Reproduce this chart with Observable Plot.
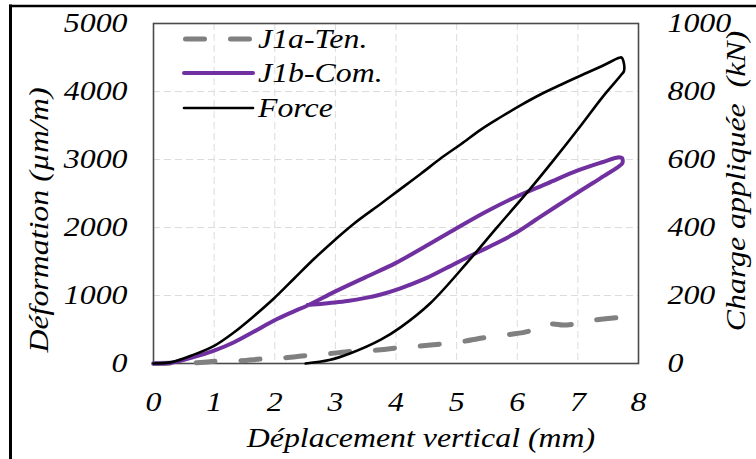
<!DOCTYPE html>
<html><head><meta charset="utf-8">
<script src="https://cdn.jsdelivr.net/npm/d3@7"></script>
<script src="https://cdn.jsdelivr.net/npm/@observablehq/plot@0.6"></script>
<style>
body{margin:0;background:#fff}
#chart{position:relative;width:756px;height:459px;overflow:hidden}
</style>
</head><body><div id="chart"></div>
<script>
// ---- data ----
const xTicks = [0, 1, 2, 3, 4, 5, 6, 7, 8];
const yLeftTicks = [0, 1000, 2000, 3000, 4000, 5000];
const yRightTicks = [0, 200, 400, 600, 800, 1000];
const gridXTicks = [1, 2, 3, 4, 5, 6, 7];
const gridYTicks = [1000, 2000, 3000, 4000];

const seriesNames = ["J1a-Ten.", "J1b-Com.", "Force"];
const xTitle = "Déplacement vertical (mm)";
const yLeftTitle = "Déformation (µm/m)";
const yRightTitle = "Charge appliquée\u00a0\u00a0(kN)";

// J1a-Ten. (µm/m)
const tenX = [0, 0.66, 1.07, 1.42, 1.82, 2.15, 2.54, 2.89, 3.28, 3.63, 4.04, 4.37, 4.77, 5.10, 5.51, 5.86, 6.22, 6.35, 6.6, 6.75, 6.93, 7.08, 7.68];
const tenY = [0, 10, 34, 40, 69, 84, 118, 143, 181, 193, 231, 254, 290, 324, 387, 426, 485, 565, 580, 565, 580, 617, 676];

// J1b-Com. (µm/m) : loading then unloading
const comX = [0, 0.3, 0.66, 1.0, 1.33, 1.66, 1.99, 2.3, 2.54, 3.0, 3.5, 4.0, 4.5, 5.0, 5.5, 6.0, 6.5, 7.0, 7.4, 7.68, 7.73, 7.74, 7.73, 7.38, 7.05, 6.66, 6.3, 5.95, 5.5, 5.18, 4.8, 4.46, 4.05, 3.75, 3.5, 3.2, 2.9, 2.7, 2.54];
const comY = [0, 12, 93, 190, 313, 470, 632, 760, 853, 1060, 1270, 1480, 1730, 1990, 2240, 2460, 2650, 2840, 2960, 3034, 3020, 2975, 2940, 2730, 2544, 2320, 2110, 1907, 1700, 1563, 1390, 1240, 1098, 1015, 965, 920, 890, 870, 860];

// Force (kN) : loading then unloading
const forceX = [0, 0.3, 0.665, 1.0, 1.33, 1.66, 1.99, 2.32, 2.65, 3.0, 3.31, 3.75, 4.05, 4.41, 4.75, 5.07, 5.4, 5.73, 6.06, 6.39, 6.72, 7.05, 7.4, 7.68, 7.72, 7.75, 7.76, 7.73, 7.4, 7.05, 6.6, 6.22, 5.67, 5.18, 4.57, 4.08, 3.75, 3.25, 2.9, 2.51];
const forceKN = [0, 4, 26, 52, 92, 140, 192, 250, 308, 365, 412, 470, 510, 558, 605, 645, 688, 725, 760, 792, 820, 847, 875, 899, 900, 890, 860, 852, 782, 700, 598, 515, 401, 298, 178, 107, 70, 30, 10, 0];

// right axis (kN) shares the left axis frame: 1000 kN <-> 5000 µm/m
const leftMax = yLeftTicks[yLeftTicks.length - 1];
const rightMax = yRightTicks[yRightTicks.length - 1];
const k = leftMax / rightMax;

const tenData = tenX.map((x, i) => ({x, y: tenY[i]}));
const comData = comX.map((x, i) => ({x, y: comY[i]}));
const forceData = forceX.map((x, i) => ({x, y: forceKN[i] * k}));

const FONT = "'Liberation Serif', 'Times New Roman', serif";
const SX = 1.18;

const plot = Plot.plot({
  width: 756, height: 459,
  marginLeft: 153, marginRight: 118, marginTop: 23, marginBottom: 96,
  x: {domain: [0, 8]},
  y: {domain: [0, leftMax]},
  style: {fontFamily: FONT, fontStyle: "italic", fontSize: "27px", color: "#000", background: "#fff"},
  marks: [
    Plot.gridX(gridXTicks, {stroke: "#dcdcdc", strokeOpacity: 1, strokeDasharray: "7,4"}),
    Plot.gridY(gridYTicks, {stroke: "#dcdcdc", strokeOpacity: 1, strokeDasharray: "7,4"}),
    Plot.frame({stroke: "#4a4a4a", strokeWidth: 1.6}),
    Plot.line(tenData, {x: "x", y: "y", stroke: "#808080", strokeWidth: 5, strokeDasharray: "19,26", strokeDashoffset: 2.5, strokeLinecap: "round", curve: "catmull-rom"}),
    Plot.line(comData, {x: "x", y: "y", stroke: "#7030A0", strokeWidth: 4, curve: "catmull-rom"}),
    Plot.line(forceData, {x: "x", y: "y", stroke: "#000", strokeWidth: 2.6, curve: "catmull-rom"}),
    Plot.axisX(xTicks, {tickSize: 0, tickPadding: 28, label: null, tickFormat: d => String(d)}),
    Plot.axisY(yLeftTicks, {anchor: "left", tickSize: 0, tickPadding: 26, label: null, tickFormat: d => String(d)}),
    Plot.axisY(yRightTicks.map(v => v * k), {anchor: "right", tickSize: 0, tickPadding: 29, label: null, tickFormat: d => String(Math.round(d / k))})
  ]
});
document.getElementById("chart").appendChild(plot);

const svg = d3.select(plot);
// horizontal stretch of the Times-like glyphs, like the source figure
svg.selectAll("text").each(function () {
  const t = d3.select(this);
  let tr = t.attr("transform");
  if (!tr) {
    const x = +t.attr("x") || 0, y = +t.attr("y") || 0;
    t.attr("x", null).attr("y", null);
    tr = `translate(${x},${y})`;
  }
  t.attr("transform", tr + ` scale(${SX},1)`);
});

// axis titles
const tg = svg.append("g").attr("font-family", FONT).attr("font-style", "italic").attr("font-size", 27).attr("fill", "#000").attr("text-anchor", "middle");
tg.append("text").attr("transform", `translate(421,447) scale(${SX},1)`).text(xTitle);
tg.append("text").attr("transform", `translate(48,220) rotate(-90) scale(${SX},1)`).text(yLeftTitle);
tg.append("text").attr("transform", `translate(745,181) rotate(-90) scale(${SX},1)`).text(yRightTitle);

// legend
const lg = svg.append("g").attr("font-family", FONT).attr("font-style", "italic").attr("font-size", 27).attr("fill", "#000").attr("text-anchor", "start");
const legendRows = [
  {y: 39, stroke: "#808080", w: 5, dash: "19,26"},
  {y: 73, stroke: "#7030A0", w: 4, dash: null},
  {y: 108, stroke: "#000", w: 2.6, dash: null}
];
legendRows.forEach((r, i) => {
  const ln = lg.append("line").attr("x1", r.dash ? 185.5 : 184).attr("x2", r.dash ? 252 : 253).attr("y1", r.y).attr("y2", r.y)
    .attr("stroke", r.stroke).attr("stroke-width", r.w).attr("stroke-linecap", "round");
  if (r.dash) ln.attr("stroke-dasharray", r.dash);
  lg.append("text").attr("text-anchor", "start")
    .attr("transform", `translate(258,${r.y + 9}) scale(${SX},1)`).text(seriesNames[i]);
});

// outer figure border
svg.append("line").attr("x1", 10.5).attr("x2", 10.5).attr("y1", 4.5).attr("y2", 459).attr("stroke", "#000").attr("stroke-width", 3);
svg.append("line").attr("x1", 9).attr("x2", 756).attr("y1", 6).attr("y2", 6).attr("stroke", "#000").attr("stroke-width", 2.5);
</script>
</body></html>
